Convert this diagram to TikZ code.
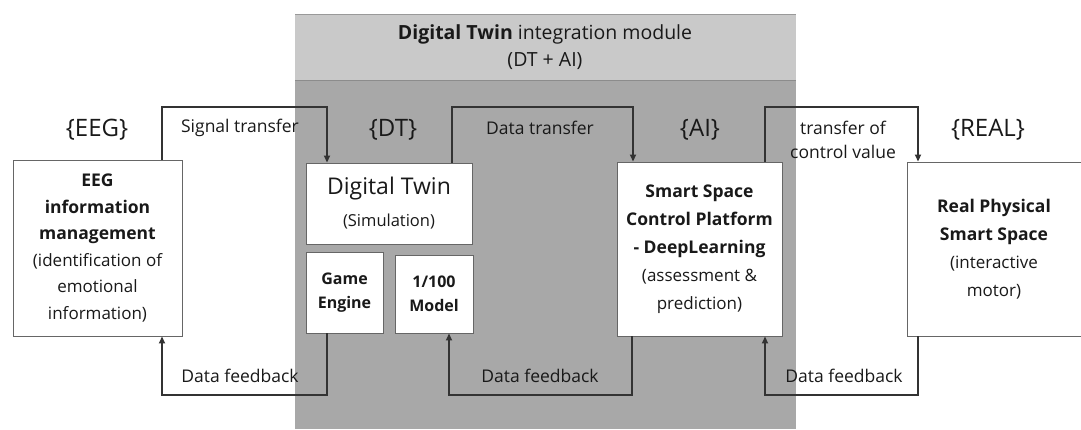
\documentclass[tikz,border=0pt]{standalone}
\usepackage{fontspec}
\setmainfont{Open Sans}
\usetikzlibrary{arrows.meta}
\newcommand{\headtxt}{\fontsize{17.5}{26.5}\selectfont\bfseries}
\newcommand{\bodytxt}{\fontsize{17}{26.5}\selectfont\mdseries}
\begin{document}
\begin{tikzpicture}[x=1pt,y=-1pt,
    box/.style={draw=black!60,line width=0.9pt,fill=white,align=center,inner sep=0pt,text=black!90},
    flow/.style={draw=black!80,line width=1.8pt,-{Triangle[length=7pt,width=6pt]}},
    lbl/.style={font=\fontsize{17.5}{24}\selectfont,align=center,text=black!90},
    tag/.style={font=\fontsize{24}{24}\selectfont,text=black!90}]
    \useasboundingbox (0,0) rectangle (1081,429);

    % integration module background
    \fill[black!21] (295,14) rectangle (796,80);
    \fill[black!34] (295,80) rectangle (796,429);
    \draw[black!40,line width=1pt] (295,14) -- (796,14);
    \draw[black!45,line width=1pt] (295,80) -- (796,80);
    \node[font=\fontsize{19.5}{27}\selectfont,align=center,text=black!90] (title) at (545,47)
        {\textbf{Digital Twin} integration module\\(DT + AI)};

    % boxes
    \node[box,font=\headtxt,minimum width=169,minimum height=176] (eeg) at (97.5,248)
        {EEG\\information\\management\\\bodytxt (identification of\\\bodytxt emotional\\\bodytxt information)};
    \node[box,font=\fontsize{23}{32}\selectfont,minimum width=166,minimum height=81] (dt) at (389,203.5)
        {Digital Twin\\\fontsize{16.5}{32}\selectfont (Simulation)};
    \node[box,minimum width=77,minimum height=81,font=\fontsize{16}{24}\selectfont\bfseries] (game) at (344.5,292.5)
        {Game\\Engine};
    \node[box,minimum width=78,minimum height=78,font=\fontsize{16}{24}\selectfont\bfseries] (model) at (434,294)
        {1/100\\Model};
    \node[box,font=\fontsize{17.5}{28}\selectfont\bfseries,minimum width=165,minimum height=174] (ss) at (699.5,249)
        {Smart Space\\Control Platform\\- DeepLearning\\\bodytxt (assessment \&\\\bodytxt prediction)};
    \node[box,font=\fontsize{17.5}{28}\selectfont\bfseries,minimum width=174,minimum height=174] (real) at (994,249)
        {Real Physical\\Smart Space\\\bodytxt (interactive\\\bodytxt motor)};

    % tags
    \node[tag] (tageeg) at (97,130) {\{EEG\}};
    \node[tag] (tagdt) at (393,130) {\{DT\}};
    \node[tag] (tagai) at (700,130) {\{AI\}};
    \node[tag] (tagreal) at (988,130) {\{REAL\}};

    % rail corners
    \coordinate (sigL) at (162,107);
    \coordinate (sigR) at (327,107);
    \coordinate (datL) at (452,107);
    \coordinate (datR) at (633,107);
    \coordinate (ctlL) at (765,107);
    \coordinate (ctlR) at (918,107);
    \coordinate (fbaL) at (162,395);
    \coordinate (fbaR) at (327,395);
    \coordinate (fbbL) at (449,395);
    \coordinate (fbbR) at (632,395);
    \coordinate (fbcL) at (765,395);
    \coordinate (fbcR) at (918,395);

    % transfer arrows (top)
    \draw[flow] (eeg.north -| sigL) |- (sigR) -- (dt.north -| sigR);
    \draw[flow] (dt.north -| datL) |- (datR) -- (ss.north -| datR);
    \draw[flow] (ss.north -| ctlL) |- (ctlR) -- (real.north -| ctlR);

    % feedback arrows (bottom)
    \draw[flow] (game.south -| fbaR) |- (fbaL) -- (eeg.south -| fbaL);
    \draw[flow] (ss.south -| fbbR) |- (fbbL) -- (model.south -| fbbL);
    \draw[flow] (real.south -| fbcR) |- (fbcL) -- (ss.south -| fbcL);

    % labels
    \node[lbl] (sigtxt) at (240,128) {Signal transfer};
    \node[lbl] (dattxt) at (540,128) {Data transfer};
    \node[lbl] (ctltxt) at (843,140) {transfer of\\control value};
    \node[lbl] (fbatxt) at (240,376) {Data feedback};
    \node[lbl] (fbbtxt) at (540,376) {Data feedback};
    \node[lbl] (fbctxt) at (844,376) {Data feedback};

\end{tikzpicture}
\end{document}
